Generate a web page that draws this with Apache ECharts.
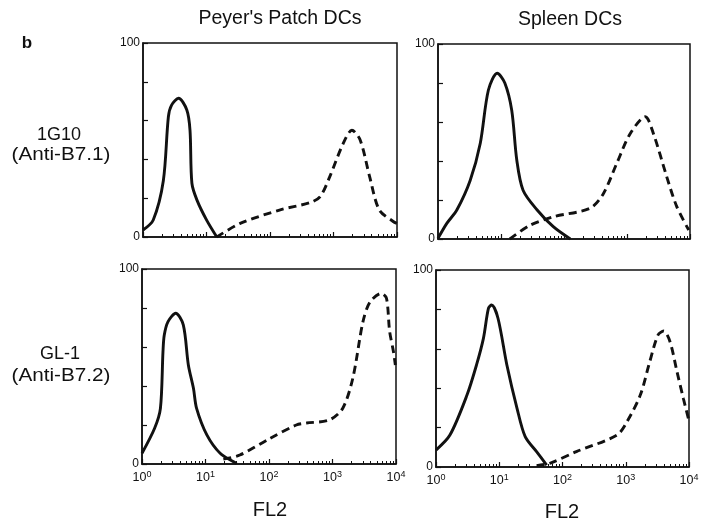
<!DOCTYPE html>
<html>
<head>
<meta charset="utf-8">
<script src="https://cdn.jsdelivr.net/npm/echarts@6/dist/echarts.min.js"></script>
<style>
html,body{margin:0;padding:0;background:#fff;}
#main{width:703px;height:523px;}
</style>
</head>
<body>
<div id="main"></div>
<script>
// ---- Data (FL2 value, % of max) ----
const columnTitles = ["Peyer's Patch DCs", "Spleen DCs"];
const rowTitles = [["1G10", "(Anti-B7.1)"], ["GL-1", "(Anti-B7.2)"]];
const xTickExponents = [0, 1, 2, 3, 4];
const yTickLabels = ["0", "100"];

// Top-left: Peyer's Patch, 1G10
const ppB71Solid = [[1,3.6],[1.45,8.8],[2.09,29],[2.51,62],[2.82,68],[3.63,71.5],[4.9,65.5],[5.5,55],[5.89,27.7],[7.08,19],[10,8.8],[14.5,0]];
const ppB71Dashed = [[14.5,0],[33.9,7],[145,14],[427,17.7],[617,20.8],[871,31],[1413,48],[1950,55],[2630,50],[3715,31],[5250,14],[8710,8],[10000,7]];
// Top-right: Spleen, 1G10
const spB71Solid = [[1,0.3],[1.38,8],[2.0,15],[3.24,30],[4.68,49],[6.31,76.4],[8.71,85],[11.5,80],[14.8,66],[17.8,40.5],[22.4,25],[37.2,15],[67.6,6.3],[126,0]];
const spB71Dashed = [[13.8,0],[28.8,7],[67.6,11.4],[257,15.7],[417,23],[692,39],[1122,54],[1950,62.7],[2630,54],[4266,32],[6166,16.6],[9550,4.6]];
// Bottom-left: Peyer's Patch, GL-1
const ppB72Solid = [[1,5.5],[1.58,18.3],[1.95,28.5],[2.14,57.6],[2.24,66],[2.57,73],[3.39,77.3],[4.47,71.3],[5.37,50.8],[6.46,38.8],[7.24,28.5],[10.5,14.9],[17.0,5.5],[30.9,0.3]];
const ppB72Dashed = [[19.1,2.5],[34.7,4.6],[102,13],[269,20],[389,21],[891,22.6],[1445,28.5],[2089,44],[3020,73],[3890,83],[5890,87.5],[7080,85],[7940,68],[9120,57.6],[9770,50.8]];
// Bottom-right: Spleen, GL-1
const spB72Solid = [[1,8.6],[1.66,16.2],[3.09,36.5],[4.37,51.8],[5.62,65.3],[6.76,80.6],[7.59,82.2],[9.55,75.5],[13.2,51.8],[19.1,29.8],[25.7,15.4],[38.9,7.8],[56.2,1]];
const spB72Dashed = [[38.9,0.7],[63.1,1.9],[166,7.8],[724,16.2],[1047,23],[1698,36.5],[2399,53.5],[3236,67],[3981,69],[5012,63.6],[6457,48.4],[8128,34.9],[9772,24.7]];

const panels = [
  {solid: ppB71Solid, dashed: ppB71Dashed, box: {left:143, top:43, width:254, height:194}, xLabels:false},
  {solid: spB71Solid, dashed: spB71Dashed, box: {left:438, top:44, width:252, height:195}, xLabels:false},
  {solid: ppB72Solid, dashed: ppB72Dashed, box: {left:142, top:269, width:254, height:195}, xLabels:true},
  {solid: spB72Solid, dashed: spB72Dashed, box: {left:436, top:270, width:253, height:197}, xLabels:true}
];

const FONT = '"Liberation Sans", Arial, Helvetica, sans-serif';
// minor tick positions (log10 of 2..9 x 10^d)
const minorTicks = [];
for (let d = 0; d < 4; d++) for (let k = 2; k <= 9; k++) minorTicks.push(Math.log10(k * Math.pow(10, d)));

const grids = [], xAxes = [], yAxes = [], series = [];
panels.forEach((p, i) => {
  grids.push(Object.assign({show: true, borderColor: '#111', borderWidth: 1.5, backgroundColor: 'transparent'}, p.box));
  xAxes.push({
    type: 'log', logBase: 10, min: 1, max: 10000, gridIndex: i, splitNumber: 4, position: 'bottom',
    axisLine: {show: true, lineStyle: {color: '#111', width: 1.5}},
    axisTick: {show: true, inside: true, length: 5, lineStyle: {color: '#111', width: 1.2}},
    splitLine: {show: false},
    axisLabel: {
      show: p.xLabels, margin: 6, color: '#111', fontFamily: FONT,
      formatter: v => '{b|10}{s|' + Math.round(Math.log10(v)) + '}',
      rich: {b: {fontSize: 12.5, fontFamily: FONT, color: '#111'}, s: {fontSize: 9, fontFamily: FONT, color: '#111', padding: [0,0,7,0]}}
    }
  });
  xAxes.push({
    type: 'value', min: 0, max: 4, gridIndex: i, position: 'bottom',
    axisLine: {show: false}, splitLine: {show: false}, axisLabel: {show: false},
    axisTick: {show: true, inside: true, length: 3, customValues: minorTicks, lineStyle: {color: '#111', width: 1}}
  });
  yAxes.push({
    type: 'value', min: 0, max: 100, interval: 20, gridIndex: i,
    axisLine: {show: true, lineStyle: {color: '#111', width: 1.5}},
    axisTick: {show: true, inside: true, length: 5, lineStyle: {color: '#111', width: 1.2}},
    splitLine: {show: false},
    axisLabel: {
      margin: 3, fontSize: 12, color: '#111', fontFamily: FONT,
      formatter: v => (v === 0 ? yTickLabels[0] : (v === 100 ? yTickLabels[1] : ''))
    }
  });
  series.push({
    type: 'line', xAxisIndex: i * 2, yAxisIndex: i, data: p.solid, showSymbol: false, smooth: 0.3,
    lineStyle: {color: '#111', width: 2.9}, silent: true, animation: false
  });
  series.push({
    type: 'line', xAxisIndex: i * 2, yAxisIndex: i, data: p.dashed, showSymbol: false, smooth: 0.3,
    lineStyle: {color: '#111', width: 2.9, type: [8, 5]}, silent: true, animation: false
  });
});

const txt = (text, x, y, size, weight, sx) => ({
  type: 'text', x: x, y: y, scaleX: sx || 1,
  style: {text: text, fill: '#111', font: (weight || 'normal') + ' ' + size + 'px ' + FONT, textAlign: 'center', textVerticalAlign: 'middle'}
});

const graphics = [
  txt('b', 27, 43, 17, 'bold'),
  txt(columnTitles[0], 280, 19, 19.5),
  txt(columnTitles[1], 570, 20, 19.5),
  txt(rowTitles[0][0], 59, 135, 18),
  txt(rowTitles[0][1], 61, 155, 18, 'normal', 1.15),
  txt(rowTitles[1][0], 60, 354, 18),
  txt(rowTitles[1][1], 61, 376, 18, 'normal', 1.15),
  txt('FL2', 270, 510, 20),
  txt('FL2', 562, 512, 20)
];

const chart = echarts.init(document.getElementById('main'), null, {renderer: 'canvas'});
chart.setOption({
  animation: false,
  backgroundColor: '#fff',
  grid: grids, xAxis: xAxes, yAxis: yAxes, series: series,
  graphic: graphics
});
</script>
</body>
</html>
